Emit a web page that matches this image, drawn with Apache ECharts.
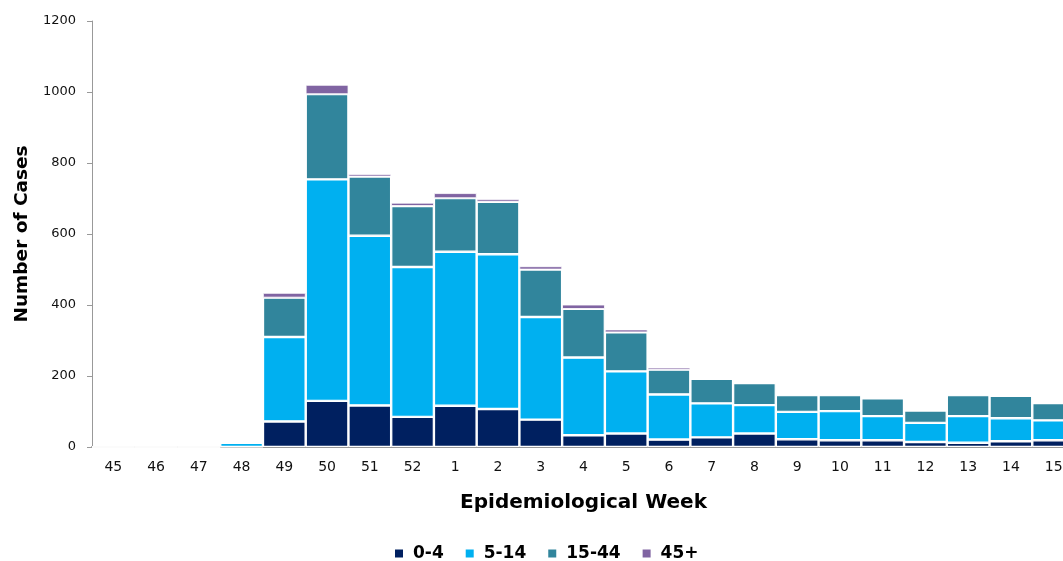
<!DOCTYPE html>
<html><head><meta charset="utf-8">
<script src="https://cdn.jsdelivr.net/npm/echarts@6/dist/echarts.min.js"></script>
<style>html,body{margin:0;padding:0;background:#fff}#c{width:1063px;height:561px}</style>
</head><body><div id="c"></div>
<script>
const weeks = ['45','46','47','48','49','50','51','52','1','2','3','4','5','6','7','8','9','10','11','12','13','14','15'];
const age0_4   = [0,0,0,0,72,130,117,85,116,107,77,33,38,21,27,38,22,19,19,14,12,16,19];
const age5_14  = [0,0,0,12,238,624,478,422,434,436,289,219,175,127,96,80,77,82,68,54,75,65,56];
const age15_44 = [0,0,0,0,111,240,167,172,151,148,134,137,110,70,69,62,47,45,50,35,59,63,49];
const age45p   = [0,0,0,0,13,26,7,9,14,7,9,12,8,6,0,0,0,0,0,0,0,0,0];
const yTicks = [0,200,400,600,800,1000,1200];

const font = '"DejaVu Sans", sans-serif';
const mk = (name, data, color, bw) => ({
  name, type: 'bar', stack: 'a', data,
  barCategoryGap: '0%',
  itemStyle: { color, borderColor: '#fff', borderWidth: bw },
  emphasis: { disabled: true }
});
const chart = echarts.init(document.getElementById('c'));
chart.setOption({
  animation: false,
  grid: { left: 92, width: 983, top: 21, bottom: 114, outerBoundsMode: 'none', containLabel: false },
  legend: {
    top: 545, left: 393, padding: 0, itemWidth: 10, itemHeight: 10, itemGap: 20,
    icon: 'rect',
    textStyle: { fontFamily: font, fontWeight: 'bold', fontSize: 17, color: '#000', padding: [0, 0, 0, 4] },
    data: ['0-4','5-14','15-44','45+']
  },
  xAxis: {
    type: 'category', data: weeks,
    name: 'Epidemiological Week', nameLocation: 'middle', nameGap: 46,
    nameTextStyle: { fontFamily: font, fontWeight: 'bold', fontSize: 20, color: '#000' },
    axisLine: { lineStyle: { color: '#999', width: 2 } },
    axisTick: { show: false },
    axisLabel: { fontFamily: font, fontSize: 14, color: '#111', margin: 13 }
  },
  yAxis: {
    type: 'value', min: yTicks[0], max: yTicks[yTicks.length-1], interval: 200,
    name: 'Number of Cases', nameLocation: 'middle', nameGap: 60,
    nameTextStyle: { fontFamily: font, fontWeight: 'bold', fontSize: 18.5, color: '#000' },
    axisLine: { show: true, lineStyle: { color: '#999', width: 1 } },
    axisTick: { show: true, length: 5, lineStyle: { color: '#999' } },
    axisLabel: { fontFamily: font, fontSize: 13, color: '#111', margin: 16, formatter: v => String(v) },
    splitLine: { show: false }
  },
  series: [
    mk('0-4', age0_4, '#002060', 1.2),
    mk('5-14', age5_14, '#00B0F0', 1.2),
    mk('15-44', age15_44, '#31859C', 1.2),
    mk('45+', age45p, '#8064A2', 0.8)
  ]
});
</script></body></html>
